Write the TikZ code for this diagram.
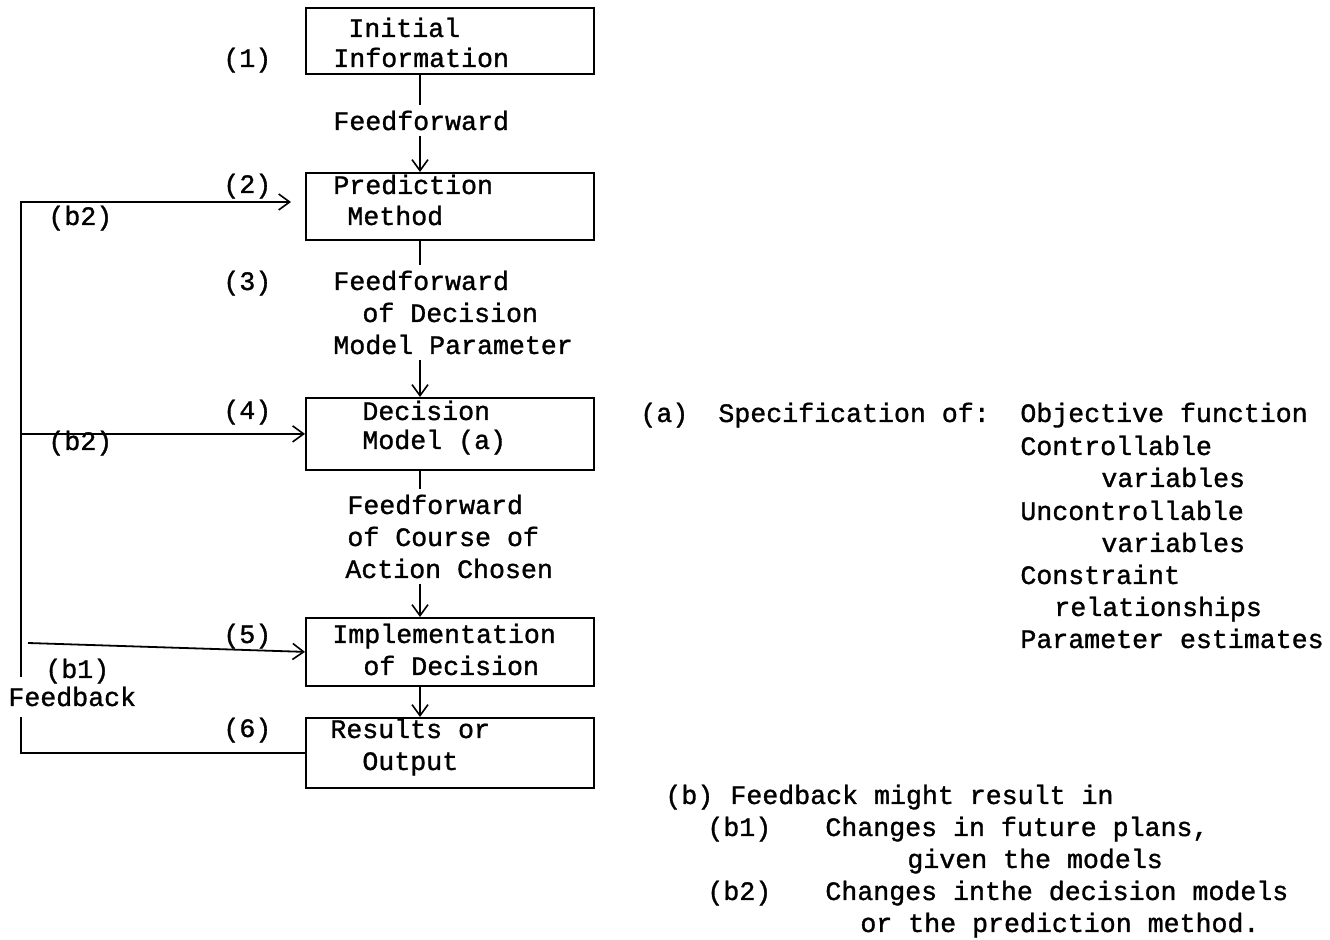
\documentclass[tikz,border=0pt]{standalone}
\usepackage{fontspec}
\newfontfamily\twfont[FakeBold=1.2]{Liberation Mono}
\usetikzlibrary{arrows.meta}
\begin{document}
\begin{tikzpicture}[x=0.5pt,y=-0.5pt,
  every node/.style={font=\twfont\fontsize{13.3}{16}\selectfont},
  txt/.style={anchor=base west, inner xsep=0pt, inner ysep=2.5pt},
  box/.style={draw, line width=0.9pt, anchor=north west, inner sep=0pt, minimum width=144pt},
  conn/.style={line width=0.6pt},
  fb/.style={line width=0.9pt},
  arr/.style={-{Straight Barb[length=5.5pt,width=8pt,line width=0.8pt]}}]
\useasboundingbox (0,0) rectangle (1330,940);

% boxes
\node[box, minimum height=33pt]   (n1) at (305,7) {};
\node[box, minimum height=33.5pt] (n2) at (305,172) {};
\node[box, minimum height=36pt]   (n4) at (305,397) {};
\node[box, minimum height=34pt]   (n5) at (305,617) {};
\node[box, minimum height=35pt]   (n6) at (305,717) {};

% box texts
\node[txt] (t1a) at (348,37) {Initial};
\node[txt] (t1b) at (333,67) {Information};
\node[txt] (t2a) at (333,194) {Prediction};
\node[txt] (t2b) at (347,225) {Method};
\node[txt] (t4a) at (362,420) {Decision};
\node[txt] (t4b) at (362,449) {Model (a)};
\node[txt] (t5a) at (332,643) {Implementation};
\node[txt] (t5b) at (363,675) {of Decision};
\node[txt] (t6a) at (330,738) {Results or};
\node[txt] (t6b) at (362,770) {Output};

% step numbers
\node[txt] (k1) at (223,67) {(1)};
\node[txt] (k2) at (223,193) {(2)};
\node[txt] (k3) at (223,290) {(3)};
\node[txt] (k4) at (223,419) {(4)};
\node[txt] (k5) at (223,643) {(5)};
\node[txt] (k6) at (223,737) {(6)};

% feedback labels
\node[txt] (lb2a) at (48,225) {(b2)};
\node[txt] (lb2b) at (48,450) {(b2)};
\node[txt] (lb1) at (45,678) {(b1)};
\node[txt] (lfb) at (8,706) {Feedback};

% connector labels
\node[txt] (f1) at (333,130) {Feedforward};
\node[txt] (f3a) at (333,290) {Feedforward};
\node[txt] (f3b) at (362,322) {of Decision};
\node[txt] (f3c) at (333,354) {Model Parameter};
\node[txt] (f5a) at (347,514) {Feedforward};
\node[txt] (f5b) at (347,546) {of Course of};
\node[txt] (f5c) at (345,578) {Action Chosen};

% forward connectors
\coordinate (ax) at (420,0);
\draw[conn] (ax |- n1.south) -- (ax |- f1.north);
\draw[conn,arr] (ax |- f1.south) -- (ax |- n2.north);
\draw[conn] (ax |- n2.south) -- (ax |- f3a.north);
\draw[conn,arr] (ax |- f3c.south) -- (ax |- n4.north);
\draw[conn] (ax |- n4.south) -- (ax |- f5a.north);
\draw[conn,arr] (ax |- f5c.south) -- (ax |- n5.north);
\draw[conn,arr] (ax |- n5.south) -- (ax |- n6.north);

% feedback loop
\coordinate (lt) at (21,202);
\coordinate (lg1) at (21,677);
\coordinate (lg2) at (21,717);
\coordinate (s5) at (28,643);
\draw[fb] (n6.west) -| (lg2);
\draw[fb,arr,shorten >=7pt] (lg1) -- (lt) -- (n2.west |- lt);
\draw[fb,arr] (lt |- n4.west) -- (n4.west);
\draw[fb,arr] (s5) -- (n5.west);

% note (a)
\node[txt] (na) at (640,422) {(a)};
\node[txt] (nspec) at (718,422) {Specification of:};
\node[txt] (na1) at (1020,422) {Objective function};
\node[txt] (na2) at (1020,455) {Controllable};
\node[txt] (na3) at (1101,487) {variables};
\node[txt] (na4) at (1020,520) {Uncontrollable};
\node[txt] (na5) at (1101,552) {variables};
\node[txt] (na6) at (1020,584) {Constraint};
\node[txt] (na7) at (1054,616) {relationships};
\node[txt] (na8) at (1020,648) {Parameter estimates};

% note (b)
\node[txt] (nb) at (665,804) {(b)};
\node[txt] (nb0) at (730,804) {Feedback might result in};
\node[txt] (nb1) at (707,836) {(b1)};
\node[txt] (nb1t) at (825,836) {Changes in future plans,};
\node[txt] (nb1u) at (907,868) {given the models};
\node[txt] (nb2) at (707,900) {(b2)};
\node[txt] (nb2t) at (825,900) {Changes inthe decision models};
\node[txt] (nb2u) at (860,932) {or the prediction method.};
\end{tikzpicture}
\end{document}
